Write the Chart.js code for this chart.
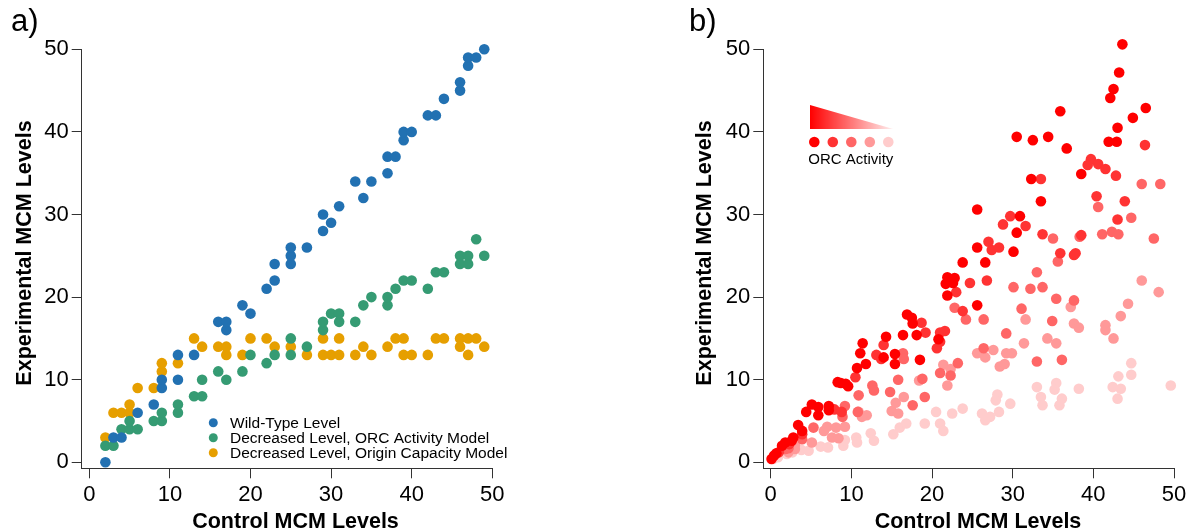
<!DOCTYPE html>
<html>
<head>
<meta charset="utf-8">
<script src="https://cdn.jsdelivr.net/npm/chart.js@4.4.1/dist/chart.umd.min.js"></script>
<style>
  html, body { margin: 0; padding: 0; background: #fff; }
  #wrap { position: relative; width: 1199px; height: 531px; overflow: hidden; }
  canvas { position: absolute; top: 0; }
</style>
</head>
<body>
<div id="wrap">
  <canvas id="panelA" width="600" height="531" style="left:0"></canvas>
  <canvas id="panelB" width="599" height="531" style="left:600px"></canvas>
</div>
<script>
const tickValues = [0, 10, 20, 30, 40, 50];

// panel a: [control, experimental]
const wildType = [[2,0],[3,3],[4,3],[6,6],[8,7],[9,9],[9,10],[11,10],[11,13],[13,13],[16,17],[17,16],[17,17],[19,19],[20,18],[22,21],[23,22],[23,24],[25,24],[25,25],[25,26],[27,26],[29,28],[29,30],[30,29],[31,31],[33,34],[34,32],[35,34],[37,35],[37,37],[38,37],[39,39],[39,40],[40,40],[42,42],[43,42],[44,44],[46,45],[46,46],[47,48],[47,49],[48,49],[49,50]];
const orcModel = [[2,2],[3,2],[4,4],[5,4],[5,5],[6,4],[8,5],[9,5],[9,6],[11,6],[11,7],[13,8],[14,8],[14,10],[16,11],[17,10],[19,11],[20,13],[22,12],[23,13],[25,13],[25,15],[27,14],[29,16],[29,17],[30,18],[31,17],[31,18],[33,17],[34,19],[35,20],[37,19],[37,20],[38,21],[39,22],[40,22],[42,21],[43,23],[44,23],[46,24],[46,25],[47,24],[47,25],[48,27],[49,25]];
const capacityModel = [[2,3],[3,6],[4,6],[5,6],[5,7],[6,9],[8,9],[9,11],[9,12],[11,12],[13,15],[14,14],[16,14],[17,13],[17,14],[19,13],[20,15],[22,15],[23,14],[25,14],[27,13],[29,13],[29,15],[30,13],[31,13],[31,15],[33,13],[34,14],[35,13],[37,14],[38,15],[39,13],[39,15],[40,13],[42,13],[43,15],[44,15],[46,14],[46,15],[47,13],[47,15],[48,15],[49,14]];

// panel b: one list per ORC activity level, highest first
const orc100 = [[0.1,0.4],[0.4,0.8],[0.7,1.1],[1.4,2.0],[1.8,2.4],[2.6,2.6],[2.8,3.0],[3.4,4.5],[3.9,3.8],[4.4,6.1],[5.1,7.0],[5.9,5.7],[5.9,6.7],[7.2,6.8],[7.2,6.3],[8.3,9.7],[8.7,9.6],[9.3,9.5],[9.6,9.2],[10.7,11.4],[11.8,11.9],[11.1,13.2],[11.4,14.4],[14.3,15.2],[14.0,12.7],[15.4,13.1],[15.4,11.9],[16.4,15.4],[18.1,15.4],[16.9,17.9],[17.5,17.5],[17.6,16.8],[18.5,12.4],[20.8,14.9],[21.9,20.2],[21.7,21.6],[21.9,22.4],[22.8,22.3],[22.6,21.7],[23.8,24.2],[25.6,19.0],[26.6,24.2],[25.6,26.0],[25.6,30.6],[30.1,25.5],[30.9,29.8],[30.5,27.8],[30.5,39.4],[32.5,39.0],[34.4,39.4],[32.3,34.3],[33.5,31.6],[35.9,42.5],[36.7,38.0],[38.5,34.9],[41.9,38.8],[42.9,38.8],[43.0,40.5],[42.1,44.1],[42.5,45.2],[43.2,47.2],[43.6,50.6],[44.9,41.7],[46.5,42.9]];
const orc80 = [[1.0,1.2],[2.3,2.2],[3.9,3.4],[7.9,6.4],[8.8,6.1],[10.5,10.3],[13.1,13.0],[13.7,12.5],[14.0,14.2],[18.7,16.9],[19.2,15.7],[21.0,15.7],[21.6,15.9],[20.6,13.8],[21.0,14.6],[23.0,20.6],[23.8,18.3],[24.7,21.7],[26.8,22.0],[27.0,26.7],[27.4,25.7],[28.3,26.0],[28.8,28.8],[29.7,29.8],[31.6,28.6],[33.5,34.3],[33.7,27.6],[35.9,25.3],[37.6,25.1],[37.8,25.3],[38.5,27.5],[39.7,36.7],[39.3,36.0],[40.6,36.1],[41.5,35.5],[42.8,34.7],[40.4,32.2],[43.9,31.6],[43.0,29.4],[46.4,38.4]];
const orc60 = [[1.8,1.6],[2.2,1.7],[3.9,2.8],[5.3,4.2],[8.9,5.5],[9.2,6.8],[10.8,6.1],[10.9,8.1],[12.6,9.3],[12.8,8.7],[14.8,8.5],[15.8,10.0],[17.6,6.9],[19.1,7.9],[18.8,10.1],[16.4,13.2],[16.5,12.5],[21.0,10.8],[22.3,10.5],[23.2,12.0],[22.8,18.7],[24.2,17.3],[26.4,17.3],[26.4,13.8],[29.2,15.6],[30.1,21.2],[32.2,21.0],[33.7,21.2],[33.0,23.0],[35.6,24.3],[35.4,19.8],[37.6,19.6],[31.1,18.6],[34.9,17.1],[33.0,12.2],[36.1,12.4],[40.6,30.9],[44.7,29.6],[46.0,33.7],[48.3,33.7],[47.5,27.1],[35.0,27.1],[38.3,27.3],[41.1,27.6],[42.3,27.9],[43.1,27.6]];
const orc40 = [[2.2,1.2],[3.0,1.6],[3.0,2.1],[5.1,2.4],[6.6,3.8],[7.6,3.0],[8.4,2.9],[7.0,4.3],[8.1,4.2],[9.2,4.3],[10.9,6.1],[11.9,5.7],[11.3,5.5],[15.0,6.2],[15.5,7.2],[15.8,5.9],[16.5,7.9],[18.4,9.9],[21.4,11.8],[22.3,11.3],[21.9,9.3],[25.6,13.2],[26.6,12.7],[27.6,13.6],[29.2,13.2],[29.9,13.2],[28.4,11.6],[29.0,11.9],[31.4,14.4],[31.6,17.3],[34.3,15.0],[35.4,14.4],[37.2,18.8],[37.6,16.8],[38.2,16.3],[41.5,16.6],[41.5,16.0],[42.5,15.0],[43.4,17.7],[44.3,19.2],[46.0,22.0],[48.1,20.6]];
const orc20 = [[0.3,0.4],[0.9,0.6],[2.0,1.0],[2.7,1.2],[3.8,1.5],[4.7,1.4],[6.2,1.9],[7.1,1.8],[9.0,2.0],[9.2,2.7],[10.6,3.0],[10.7,2.4],[12.4,3.5],[12.8,2.6],[15.2,3.4],[16.0,4.2],[16.8,4.7],[19.1,4.7],[21.0,4.7],[21.4,3.8],[20.5,6.1],[22.5,5.9],[23.8,6.5],[26.2,5.9],[27.2,5.5],[26.6,5.1],[28.3,6.1],[28.1,8.2],[27.9,7.5],[29.7,7.1],[33.0,9.1],[33.5,7.9],[33.7,6.9],[35.4,9.6],[35.2,8.8],[36.1,7.7],[35.8,6.9],[38.2,8.9],[42.4,9.1],[43.4,8.9],[43.0,7.7],[43.1,10.4],[44.7,10.6],[44.7,12.0],[49.6,9.3]];

const FONT = "'Liberation Sans', Arial, sans-serif";
const AXIS = '#333';
const redLevels = ['#ff0000', '#ff3333', '#ff6666', '#ff9999', '#ffcccc'];

const toXY = arr => arr.map(p => ({ x: p[0], y: p[1] }));

function scatterSet(label, pts, color) {
  return {
    label: label,
    data: toXY(pts),
    backgroundColor: color,
    pointRadius: 5.3,
    pointBorderWidth: 0,
    borderWidth: 0,
    clip: false
  };
}

function axes(yWidth, xMin) {
  const grid = { drawOnChartArea: false, drawTicks: true, tickLength: 10, color: AXIS, lineWidth: 1 };
  const border = { display: true, color: AXIS, width: 1 };
  const font = { family: FONT, size: 22 };
  const setTicks = s => { s.ticks = tickValues.map(v => ({ value: v })); };
  return {
    x: {
      type: 'linear', position: 'bottom', min: xMin, max: 50,
      grid, border,
      ticks: { font, color: '#000', padding: 3, maxRotation: 0 },
      afterBuildTicks: setTicks,
      afterFit: s => { s.height = 531 - 468.3; }
    },
    y: {
      type: 'linear', position: 'left', min: -0.73, max: 50,
      grid, border,
      ticks: { font, color: '#000', padding: 3 },
      afterBuildTicks: setTicks,
      afterFit: s => { s.width = yWidth; }
    }
  };
}

// panel letter, axis titles and the custom legends
const decor = {
  id: 'decor',
  afterDraw(chart, args, o) {
    const ctx = chart.ctx;
    ctx.save();
    ctx.fillStyle = '#000';
    ctx.textBaseline = 'alphabetic';
    ctx.textAlign = 'left';
    ctx.font = `31px ${FONT}`;
    ctx.fillText(o.letter, o.letterX, 30.5);

    ctx.font = `bold 21.5px ${FONT}`;
    ctx.textAlign = 'center';
    ctx.fillText('Control MCM Levels', o.xTitleX, 528);
    ctx.save();
    ctx.translate(o.yTitleX, 253);
    ctx.rotate(-Math.PI / 2);
    ctx.fillText('Experimental MCM Levels', 0, 0);
    ctx.restore();

    if (o.seriesLegend) {
      ctx.font = `15.5px ${FONT}`;
      ctx.textAlign = 'left';
      ctx.textBaseline = 'middle';
      chart.data.datasets.forEach((ds, i) => {
        const y = 422.7 + 15 * i;
        ctx.fillStyle = ds.backgroundColor;
        ctx.beginPath();
        ctx.arc(213.3, y, 4.5, 0, Math.PI * 2);
        ctx.fill();
        ctx.fillStyle = '#000';
        ctx.fillText(ds.label, 230, y + 1);
      });
    }

    if (o.activityLegend) {
      const x0 = 210, x1 = 293.3, yTop = 105, yBot = 129;
      const g = ctx.createLinearGradient(x0, 0, x1, 0);
      g.addColorStop(0, 'rgba(255,0,0,1)');
      g.addColorStop(1, 'rgba(255,0,0,0.06)');
      ctx.fillStyle = g;
      ctx.beginPath();
      ctx.moveTo(x0, yTop);
      ctx.lineTo(x1, yBot);
      ctx.lineTo(x0, yBot);
      ctx.closePath();
      ctx.fill();
      redLevels.forEach((c, i) => {
        ctx.fillStyle = c;
        ctx.beginPath();
        ctx.arc(214.3 + 18.5 * i, 142, 5.3, 0, Math.PI * 2);
        ctx.fill();
      });
      ctx.fillStyle = '#000';
      ctx.font = `15px ${FONT}`;
      ctx.textAlign = 'left';
      ctx.textBaseline = 'middle';
      ctx.fillText('ORC Activity', 208.3, 160);
    }
    ctx.restore();
  }
};

function makeChart(id, datasets, yWidth, xMin, rightPad, decorOpts) {
  return new Chart(document.getElementById(id), {
    type: 'scatter',
    data: { datasets },
    options: {
      responsive: false,
      animation: false,
      events: [],
      layout: { padding: { left: 0, top: 49.3, right: rightPad, bottom: 0 } },
      scales: axes(yWidth, xMin),
      plugins: {
        legend: { display: false },
        tooltip: { enabled: false },
        decor: decorOpts
      }
    },
    plugins: [decor]
  });
}

makeChart('panelA', [
  scatterSet('Wild-Type Level', wildType, '#2271b2'),
  scatterSet('Decreased Level, ORC Activity Model', orcModel, '#359b73'),
  scatterSet('Decreased Level, Origin Capacity Model', capacityModel, '#e69f00')
], 81.7, -0.94, 600 - 492.3, {
  letter: 'a)', letterX: 11, xTitleX: 295.5, yTitleX: 30.5, seriesLegend: true
});

makeChart('panelB', [
  scatterSet('100', orc100, redLevels[0]),
  scatterSet('80', orc80, redLevels[1]),
  scatterSet('60', orc60, redLevels[2]),
  scatterSet('40', orc40, redLevels[3]),
  scatterSet('20', orc20, redLevels[4])
], 163.3, -0.92, 599 - 574, {
  letter: 'b)', letterX: 89, xTitleX: 378, yTitleX: 110.5, activityLegend: true
});
</script>
</body>
</html>
